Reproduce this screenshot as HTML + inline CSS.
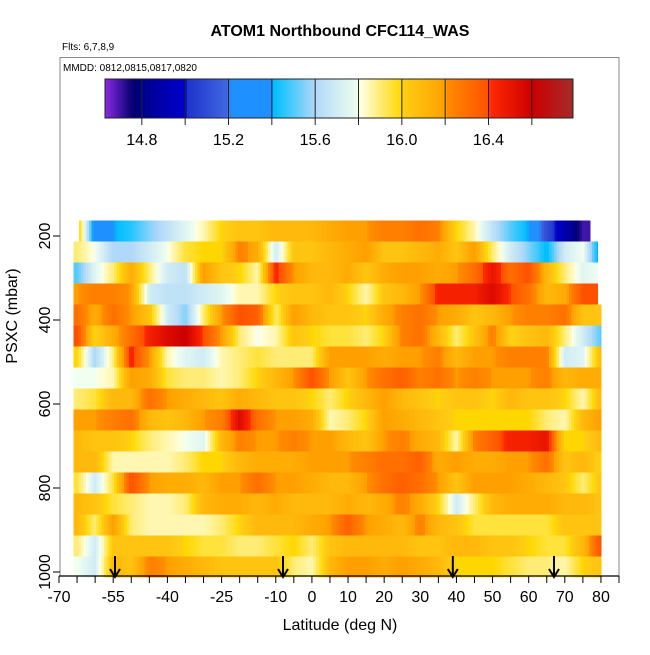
<!DOCTYPE html>
<html><head><meta charset="utf-8"><style>
body{margin:0;background:#fff;}
svg text{font-family:"Liberation Sans",sans-serif;}
</style></head><body>
<svg id="chart" width="650" height="650" viewBox="0 0 650 650" xmlns="http://www.w3.org/2000/svg">
<text x="340" y="36" text-anchor="middle" font-size="16" font-weight="bold">ATOM1 Northbound CFC114_WAS</text>
<text x="62" y="50" font-size="10">Flts: 6,7,8,9</text>
<rect x="60" y="57.5" width="559" height="518.5" fill="none" stroke="#888" stroke-width="1"/>
<text x="63" y="71" font-size="10">MMDD: 0812,0815,0817,0820</text>
<g id="cbar"></g>
<g id="cells" shape-rendering="crispEdges"></g>
<g id="axes"></g>
<text x="340" y="630" text-anchor="middle" font-size="16">Latitude (deg N)</text>
<text transform="translate(17,316) rotate(-90)" text-anchor="middle" font-size="16">PSXC (mbar)</text>
</svg>
<script>
const lats=[-65,-60,-55,-50,-45,-40,-35,-30,-25,-20,-15,-10,-5,0,5,10,15,20,25,30,35,40,45,50,55,60,65,70,75,80];
const pressures=[187.5,237.5,287.5,337.5,387.5,437.5,487.5,537.5,587.5,637.5,687.5,737.5,787.5,837.5,887.5,937.5,987.5];
const rowEnd=[77,79,79,79,80,80,80,80,80,80,80,80,80,80,80,80,80];
const rowStart=[-64.5,-66,-66,-66,-66,-66,-66,-66,-66,-66,-66,-66,-66,-66,-66,-66,-66];
const r0=[16.1,15.3,15.4,15.45,15.55,15.65,15.75,15.85,16.0,16.05,16.05,16.1,16.1,16.1,16.15,16.2,16.2,16.25,16.25,16.3,16.25,16.0,15.85,15.65,15.5,15.4,15.1,14.9,14.7,14.7];
const r1=[15.9,15.8,15.6,15.6,15.7,15.8,15.95,16.0,16.0,16.25,16.15,15.7,16.05,16.05,16.1,16.15,16.2,16.05,16.05,16.1,16.15,16.05,16.2,15.9,15.7,15.55,15.4,15.7,15.8,15.3];
const r2=[15.5,15.75,15.9,16.15,15.9,15.7,15.65,16.2,16.05,16.0,15.85,16.45,16.2,16.1,16.1,16.15,16.05,16.15,16.2,16.2,16.15,16.2,16.3,16.5,16.3,16.4,16.1,15.9,15.75,15.8];
const r3=[16.2,16.25,16.25,16.2,15.7,15.65,15.65,15.7,15.75,15.85,15.85,16.0,16.05,16.05,16.1,16.0,15.85,16.05,16.1,16.2,16.45,16.45,16.45,16.55,16.4,16.3,16.1,16.15,16.4,16.4];
const r4=[16.3,16.15,16.3,16.2,16.05,15.7,15.55,15.9,16.2,16.4,16.35,15.9,16.2,16.1,16.05,16.05,16.0,16.15,16.25,16.3,16.2,16.15,16.05,16.1,16.2,16.25,16.25,16.3,16.05,16.05];
const r5=[16.4,16.0,16.15,16.3,16.45,16.55,16.6,16.4,16.2,15.9,15.8,15.85,16.05,16.0,15.95,15.95,15.9,16.0,16.25,16.3,16.1,15.9,16.05,16.25,16.0,16.05,16.1,15.9,15.7,15.5];
const r6=[16.0,15.6,15.9,16.45,16.2,15.85,15.75,15.7,15.85,15.9,15.95,15.9,15.9,15.9,16.2,16.2,16.2,16.15,16.2,16.2,16.25,16.1,16.2,16.2,16.25,16.25,16.25,15.7,15.75,16.1];
const r7=[15.8,15.8,15.85,16.2,16.15,15.95,15.9,15.9,15.85,15.9,16.0,16.1,16.2,16.4,16.2,16.05,16.2,16.3,16.35,16.25,16.3,16.2,16.25,16.2,16.2,16.2,16.25,16.1,16.15,16.15];
const r8=[15.9,15.95,16.1,16.1,16.3,16.2,16.15,16.1,16.05,16.15,16.1,16.05,16.05,16.0,15.9,16.0,16.1,16.2,16.1,16.05,16.0,16.05,16.05,16.0,16.1,16.05,16.05,16.0,15.85,16.1];
const r9=[16.2,16.2,16.25,16.3,16.1,16.05,16.1,16.2,16.25,16.55,16.3,16.2,16.2,16.15,15.85,15.9,16.0,16.2,16.15,16.1,16.05,16.0,16.0,16.0,16.0,16.0,15.9,15.85,16.1,16.2];
const r10=[16.1,16.05,16.05,16.0,15.9,15.85,15.8,15.75,16.1,16.25,16.2,16.2,16.25,16.2,16.2,16.1,16.05,16.2,16.25,16.15,16.1,15.85,16.25,16.35,16.45,16.45,16.5,16.0,16.0,16.1];
const r11=[16.1,16.1,15.85,15.85,15.85,15.85,15.9,16.0,16.0,16.1,16.15,16.15,16.15,16.2,16.2,16.2,16.25,16.3,16.3,16.35,16.15,16.2,16.15,16.15,16.2,16.2,16.3,16.05,16.1,16.0];
const r12=[15.95,15.7,15.95,16.4,16.2,16.15,16.15,16.1,16.2,16.2,16.3,16.2,16.2,16.15,16.1,16.1,16.2,16.3,16.35,16.3,16.2,16.05,16.2,16.2,16.2,16.15,16.1,16.05,15.9,16.05];
const r13=[16.1,16.05,15.95,15.9,15.85,15.85,15.9,16.1,16.15,16.15,16.1,16.15,16.1,16.1,16.1,16.15,16.1,16.15,16.25,16.15,16.0,15.7,15.9,16.1,16.15,16.15,16.15,16.1,16.1,16.05];
const r14=[16.1,15.9,16.2,15.9,15.85,15.85,15.85,15.85,15.9,16.0,16.1,16.1,16.1,16.15,16.2,16.35,16.2,16.15,16.1,16.25,16.1,16.05,15.95,15.95,15.95,15.95,15.95,16.05,16.05,16.05];
const r15=[15.9,15.7,16.05,16.05,16.05,16.05,16.0,15.95,15.95,15.9,15.9,15.95,16.0,15.9,16.05,16.1,16.1,16.1,16.1,16.05,16.05,16.1,16.1,16.05,16.05,16.0,15.95,15.95,16.1,16.4];
const r16=[15.8,15.7,16.1,16.05,16.25,16.2,16.15,16.1,16.05,16.05,16.05,16.05,15.9,15.85,16.1,16.2,16.2,16.15,16.2,16.15,16.1,16.0,16.0,16.0,15.95,15.9,15.9,15.85,16.0,16.05];
const rows=[r0,r1,r2,r3,r4,r5,r6,r7,r8,r9,r10,r11,r12,r13,r14,r15,r16];
const xTickLabels=[-70,-55,-40,-25,-10,0,10,20,30,40,50,60,70,80];
const yTickLabels=[200,400,600,800,1000];
const cbarTickLabels=[14.8,15.2,15.6,16.0,16.4];
const arrowLats=[-54.5,-8,39,67];

const NS="http://www.w3.org/2000/svg";
const xS=l=>59+(l+70)*3.613;
const yS=p=>236+(p-200)*0.42;
const cbMin=14.63,cbMax=16.79;
const cbX=v=>105+(v-cbMin)/(cbMax-cbMin)*468;
const stops=[[14.63,[138,43,226]],[14.76,[0,0,110]],[14.8,[0,0,139]],[15.0,[0,0,205]],[15.01,[30,50,205]],[15.2,[65,105,225]],[15.21,[30,144,255]],[15.4,[30,144,255]],[15.41,[0,191,255]],[15.6,[176,216,248]],[15.8,[240,255,240]],[15.81,[255,255,224]],[16.0,[255,215,0]],[16.01,[255,205,20]],[16.2,[255,160,0]],[16.21,[255,140,0]],[16.4,[255,80,0]],[16.41,[255,40,0]],[16.6,[205,0,0]],[16.79,[165,42,42]]];
function col(v){
  if(v<=stops[0][0])return 'rgb('+stops[0][1]+')';
  for(let i=1;i<stops.length;i++){
    if(v<=stops[i][0]){const a=stops[i-1],b=stops[i],t=(v-a[0])/(b[0]-a[0]);
      return 'rgb('+a[1].map((c,k)=>Math.round(c+(b[1][k]-c)*t)).join(',')+')';}
  }
  return 'rgb('+stops[stops.length-1][1]+')';
}
function mk(tag,attrs,parent){const e=document.createElementNS(NS,tag);for(const k in attrs)e.setAttribute(k,attrs[k]);parent.appendChild(e);return e;}
function rowVal(row,l){
  if(l<=lats[0])return row[0];
  for(let i=1;i<lats.length;i++){if(l<=lats[i]){const t=(l-lats[i-1])/(lats[i]-lats[i-1]);return row[i-1]+(row[i]-row[i-1])*t;}}
  return row[row.length-1];
}

// colorbar
const cb=document.getElementById('cbar');
for(let i=0;i<234;i++){
  const v=cbMin+(i+0.5)/234*(cbMax-cbMin);
  const r=mk('rect',{x:105+i*2,y:79,width:2.3,height:39,fill:col(v)},cb);
  
  
}
const cbo=mk('rect',{x:105,y:79,width:468,height:39,fill:'none',stroke:'#222','stroke-width':1},cb);


for(let v=14.8;v<16.7;v+=0.2){
  const x=cbX(v);
  const l=mk('line',{x1:x,x2:x,y1:79,y2:125,stroke:'#222','stroke-width':1},cb);
  
  
}
cbarTickLabels.forEach(v=>{
  const t=mk('text',{x:cbX(v),y:145,'text-anchor':'middle','font-size':16},cb);
  t.textContent=v.toFixed(1);
  
  
});

// heatmap cells (drawn as thin strips shaded by interpolation between data columns)
const cg=document.getElementById('cells');
rows.forEach((row,ri)=>{
  const p=pressures[ri];
  const y0=yS(p-25),y1=yS(p+25);
  for(let l=rowStart[ri];l<rowEnd[ri];l+=0.7){
    const l1=Math.min(l+0.7,rowEnd[ri]);
    const v=rowVal(row,(l+l1)/2);
    const r=mk('rect',{x:xS(l),y:y0,width:xS(l1)-xS(l)+0.6,height:y1-y0+0.3,fill:col(v)},cg);
    
    
  }
});

// axes
const ax=document.getElementById('axes');
const xl=mk('line',{x1:59,x2:619,y1:576,y2:576,stroke:'#000','stroke-width':1.3},ax);


for(let l=-70;l<=85;l+=5){
  const t=mk('line',{x1:xS(l),x2:xS(l),y1:576,y2:583,stroke:'#000','stroke-width':1},ax);
  
  
}
xTickLabels.forEach(l=>{
  const t=mk('text',{x:xS(l),y:602,'text-anchor':'middle','font-size':16},ax);
  t.textContent=l;
  
  
});
yTickLabels.forEach(p=>{
  const y=yS(p);
  const t=mk('line',{x1:53,x2:60,y1:y,y2:y,stroke:'#000','stroke-width':1},ax);
  
  
  const tx=mk('text',{transform:'translate(50,'+y+') rotate(-90)','text-anchor':'middle','font-size':16},ax);
  tx.textContent=p;
  
  
});
arrowLats.forEach(l=>{
  const x=xS(l);
  const g=mk('g',{},ax);
  
  
  mk('line',{x1:x,x2:x,y1:556,y2:577,stroke:'#000','stroke-width':2},g);
  mk('polyline',{points:(x-5)+',569 '+x+',577 '+(x+5)+',569',fill:'none',stroke:'#000','stroke-width':2},g);
});
</script>
</body></html>
